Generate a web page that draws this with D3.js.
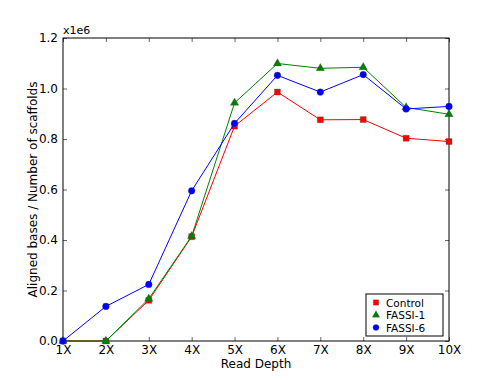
<!DOCTYPE html>
<html><head><meta charset="utf-8">
<script src="https://cdn.jsdelivr.net/npm/d3@7"></script>
<style>body{margin:0;background:#fff}svg{display:block}text{font-family:"DejaVu Sans",sans-serif}</style>
</head><body><div id="c"></div>
<script>
const categories = ["1X","2X","3X","4X","5X","6X","7X","8X","9X","10X"];
const control = [0, 0, 0.161e6, 0.413e6, 0.851e6, 0.986e6, 0.876e6, 0.877e6, 0.803e6, 0.790e6];
const fassi1  = [0, 0, 0.167e6, 0.415e6, 0.943e6, 1.099e6, 1.080e6, 1.084e6, 0.925e6, 0.898e6];
const fassi6  = [0, 0.137e6, 0.224e6, 0.595e6, 0.862e6, 1.052e6, 0.986e6, 1.055e6, 0.919e6, 0.929e6];
const yTicks = [0, 0.2e6, 0.4e6, 0.6e6, 0.8e6, 1.0e6, 1.2e6];
const seriesNames = ["Control","FASSI-1","FASSI-6"];

const W=500,H=380, L=63, R=449, T=38, B=341;
const svg=d3.select("#c").append("svg").attr("width",W).attr("height",H);
const x=d3.scalePoint().domain(categories).range([L,R]);
const y=d3.scaleLinear().domain([0,1.2e6]).range([B,T]);

svg.append("rect").attr("x",L).attr("y",T).attr("width",R-L).attr("height",B-T)
  .attr("fill","none").attr("stroke","#000").attr("stroke-width",1);

const fmt=d=>(d/1e6).toFixed(1);
const ax=(g)=>{g.select(".domain").remove(); g.selectAll("text").attr("font-size",12).attr("fill","#000");};
svg.append("g").attr("transform",`translate(0,${B})`)
  .call(d3.axisBottom(x).tickSizeInner(-4).tickSizeOuter(0).tickPadding(4)).call(ax);
svg.append("g").attr("transform",`translate(0,${T})`)
  .call(d3.axisTop(x).tickSizeInner(-4).tickSizeOuter(0).tickFormat("")).call(ax);
svg.append("g").attr("transform",`translate(${L},0)`)
  .call(d3.axisLeft(y).tickValues(yTicks).tickFormat(fmt).tickSizeInner(-4).tickSizeOuter(0).tickPadding(5)).call(ax);
svg.append("g").attr("transform",`translate(${R},0)`)
  .call(d3.axisRight(y).tickValues(yTicks).tickFormat("").tickSizeInner(-4).tickSizeOuter(0)).call(ax);
svg.selectAll(".tick line").attr("stroke","#000").attr("stroke-width",0.6);

svg.append("text").attr("x",L).attr("y",T-4).attr("font-size",11).text("x1e6");
svg.append("text").attr("x",(L+R)/2).attr("y",368).attr("text-anchor","middle").attr("font-size",12).text("Read Depth");
svg.append("text").attr("transform",`translate(37,${(T+B)/2}) rotate(-90)`).attr("text-anchor","middle").attr("font-size",12)
  .text("Aligned bases / Number of scaffolds");

const series=[
  {name:seriesNames[0],vals:control,color:"#ff0000",shape:d3.symbolSquare,size:36},
  {name:seriesNames[1],vals:fassi1,color:"#008000",shape:d3.symbolTriangle,size:30},
  {name:seriesNames[2],vals:fassi6,color:"#0000ff",shape:d3.symbolCircle,size:36}
];
const line=d3.line().x((d,i)=>x(categories[i])).y(d=>y(d));
const plot=svg.append("g");
series.forEach(s=>{
  plot.append("path").datum(s.vals).attr("d",line).attr("fill","none").attr("stroke",s.color).attr("stroke-width",1);
  plot.selectAll(null).data(s.vals).enter().append("path")
    .attr("d",d3.symbol().type(s.shape).size(s.size))
    .attr("transform",(d,i)=>`translate(${x(categories[i])},${y(d)})`)
    .attr("fill",s.color).attr("stroke","#444").attr("stroke-width",0.3);
});

const lg=svg.append("g");
lg.append("rect").attr("x",366).attr("y",294).attr("width",77).attr("height",42).attr("fill","#fff").attr("stroke","#000").attr("stroke-width",1);
series.forEach((s,i)=>{
  const yy=302.5+i*12.5;
  lg.append("path").attr("d",d3.symbol().type(s.shape).size(s.size*0.8)).attr("transform",`translate(376,${yy})`)
    .attr("fill",s.color).attr("stroke","#444").attr("stroke-width",0.3);
  lg.append("text").attr("x",386).attr("y",yy+4).attr("font-size",10.5).text(s.name);
});
</script></body></html>
